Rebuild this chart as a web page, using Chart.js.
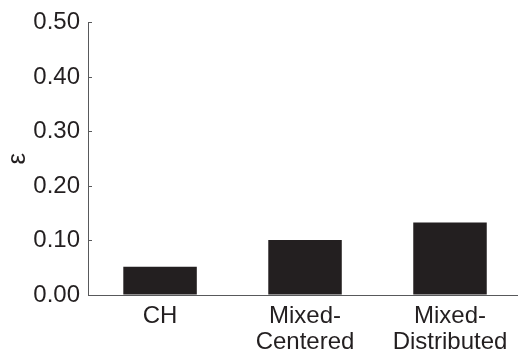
<!DOCTYPE html>
<html>
<head>
<meta charset="utf-8">
<script src="https://cdn.jsdelivr.net/npm/chart.js@4.4.1/dist/chart.umd.min.js"></script>
<style>
  html, body { margin: 0; padding: 0; background: #ffffff; }
  #wrap { width: 518px; height: 351px; }
</style>
</head>
<body>
<div id="wrap"><canvas id="c" width="518" height="351"></canvas></div>
<script>
// Categories and values
const categories = [['CH'], ['Mixed-', 'Centered'], ['Mixed-', 'Distributed']];
const epsilonValues = [0.052, 0.101, 0.133];
const yTickValues = [0, 0.1, 0.2, 0.3, 0.4, 0.5];

const ink = '#231f20';
const axisGrey = '#58595b';

// Short tick marks pointing into the plot area along the y axis
const innerTicks = {
  id: 'innerTicks',
  afterDraw(chart) {
    const y = chart.scales.y;
    const ctx = chart.ctx;
    const left = chart.chartArea.left;
    ctx.save();
    ctx.strokeStyle = axisGrey;
    ctx.lineWidth = 1;
    yTickValues.forEach(v => {
      const py = Math.round(y.getPixelForValue(v)) + 0.5;
      ctx.beginPath();
      ctx.moveTo(left, py);
      ctx.lineTo(left + 4, py);
      ctx.stroke();
    });
    ctx.restore();
  }
};

const points = epsilonValues.map((v, i) => ({ x: i, y: v }));

new Chart(document.getElementById('c'), {
  type: 'bar',
  data: {
    datasets: [{
      data: points,
      backgroundColor: ink,
      borderWidth: 0,
      categoryPercentage: 1,
      barPercentage: 0.507
    }]
  },
  options: {
    responsive: false,
    animation: false,
    layout: { padding: { top: 0, right: 0, bottom: 0, left: 0 } },
    plugins: { legend: { display: false }, tooltip: { enabled: false } },
    scales: {
      x: {
        type: 'linear',
        offset: false,
        min: -0.497,
        max: 2.469,
        afterBuildTicks(scale) {
          scale.ticks = categories.map((_, i) => ({ value: i }));
        },
        afterFit(scale) { scale.height = 56; },
        ticks: {
          color: ink,
          font: { family: 'Liberation Sans, Arial, sans-serif', size: 24, lineHeight: 1.1 },
          padding: 8,
          maxRotation: 0,
          autoSkip: false,
          callback: (v) => {
            const c = categories[Math.round(v)];
            return c ? (c.length === 1 ? c[0] : c) : '';
          }
        },
        grid: { display: true, drawOnChartArea: false, drawTicks: false },
        border: { display: true, color: axisGrey, width: 1 }
      },
      y: {
        min: 0,
        max: 0.5,
        afterBuildTicks(scale) {
          scale.ticks = yTickValues.map(v => ({ value: v }));
        },
        afterFit(scale) { scale.width = 88; },
        ticks: {
          color: ink,
          font: { family: 'Liberation Sans, Arial, sans-serif', size: 24 },
          padding: 8,
          callback: (v) => v.toFixed(2)
        },
        title: {
          display: true,
          text: 'ε',
          color: ink,
          font: { family: 'Liberation Sans, Arial, sans-serif', size: 26 },
          padding: { top: 2, bottom: 0 }
        },
        grid: { display: true, drawOnChartArea: false, drawTicks: false },
        border: { display: true, color: axisGrey, width: 1 }
      }
    }
  },
  plugins: [innerTicks]
});
</script>
</body>
</html>
